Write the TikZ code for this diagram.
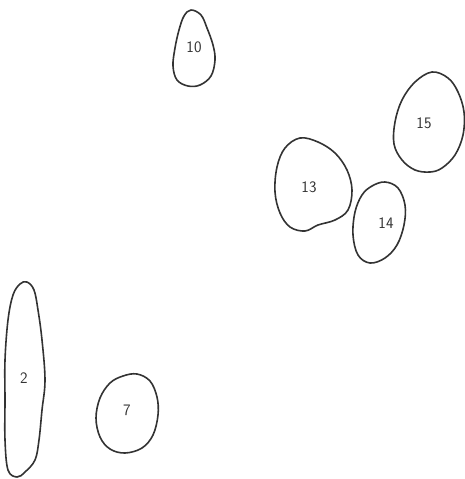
\documentclass[tikz,border=0pt]{standalone}
\usepackage{tikz}
\tikzset{blob/.style={draw=black!80,line width=1.6pt,line join=round},num/.style={font=\sffamily\fontsize{16}{16}\selectfont,text=black!80,inner sep=1pt}}

\begin{document}
\begin{tikzpicture}[x=1pt,y=-1pt]
\useasboundingbox (0,0) rectangle (465,479);
\draw[blob] plot[smooth cycle,tension=0.6] coordinates {(191,10) (201,15) (207,28) (213,45) (215,60) (211,76) (200,85) (188,86) (177,80) (173,66) (175,48) (179,30) (184,16)};
\node[num] (n10) at (194,47) {10};
\draw[blob] plot[smooth cycle,tension=0.6] coordinates {(432,72) (448,78) (458,92) (464,112) (463,135) (455,155) (442,168) (430,172) (415,170) (402,160) (394,144) (395,122) (402,100) (415,82)};
\node[num] (n15) at (424,123) {15};
\draw[blob] plot[smooth cycle,tension=0.6] coordinates {(300,138) (318,142) (335,153) (347,170) (352,190) (348,210) (335,220) (318,225) (305,231) (290,227) (280,213) (275,192) (277,167) (285,148)};
\node[num] (n13) at (309,187) {13};
\draw[blob] plot[smooth cycle,tension=0.6] coordinates {(385,182) (398,188) (405,205) (404,225) (397,245) (385,258) (370,263) (358,255) (353,235) (355,212) (362,195) (372,186)};
\node[num] (n14) at (386,223) {14};
\draw[blob] plot[smooth cycle,tension=0.6] coordinates {(27,282) (34,290) (38,310) (42,340) (45,380) (42,410) (39,440) (35,460) (25,472) (17,477) (8,470) (5,440) (5,400) (5,360) (8,320) (13,295) (20,284)};
\node[num] (n2) at (24,378) {2};
\draw[blob] plot[smooth cycle,tension=0.6] coordinates {(137,374) (150,381) (157,397) (158,415) (153,435) (142,448) (125,453) (110,449) (100,437) (96,418) (100,398) (110,383) (123,376)};
\node[num] (n7) at (127,410) {7};
\end{tikzpicture}
\end{document}
